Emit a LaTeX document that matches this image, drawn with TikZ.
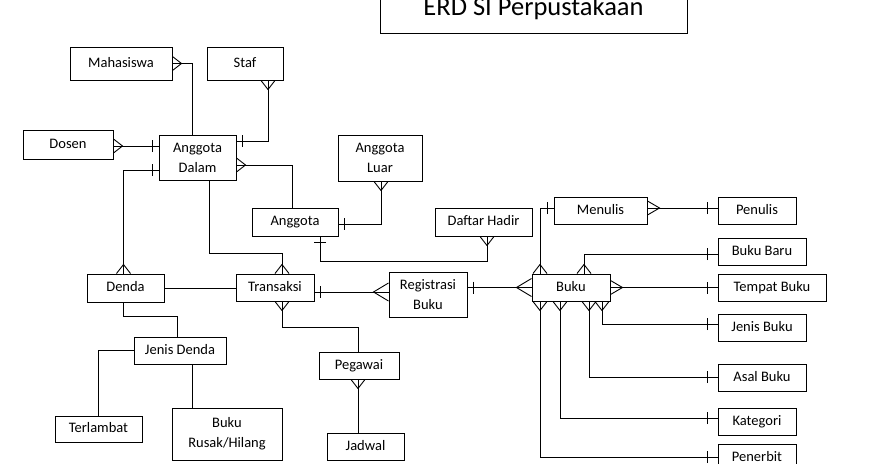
\documentclass[tikz,border=0pt]{standalone}
\usepackage{fontspec}
\setmainfont{Carlito}
\usetikzlibrary{calc}
\begin{document}
\begin{tikzpicture}[x=1pt,y=-1pt, line width=1pt,
 ent/.style={draw, inner sep=0pt, font=\fontsize{14.5}{20}\selectfont, text height=10pt, text depth=2.5pt},
 enttwo/.style={draw, inner sep=0pt, align=center, font=\fontsize{14.5}{20}\selectfont},
 crow/.pic={\draw[line width=0.9pt] (0,-7) -- (9,0) -- (0,7);},
 crowmed/.pic={\draw[line width=0.9pt] (0,-7) -- (12,0) -- (0,7);},
 crowbig/.pic={\draw[line width=0.9pt] (0,-9) -- (15,0) -- (0,9);},
 onenear/.pic={\draw (6,-6) -- (6,6);},
 onefar/.pic={\draw (10,-6) -- (10,6);}
]
\useasboundingbox (0,0) rectangle (883,463);

% title
\node[draw, inner sep=0pt, minimum width=307pt, text height=32pt, text depth=17pt,
      font=\fontsize{26.5}{30}\selectfont, anchor=base] (title) at (533.5,16) {ERD SI Perpustakaan};

% entities
\node[ent, minimum width=102pt, minimum height=33pt] (mah) at (121,63.5) {Mahasiswa};
\node[ent, minimum width=76pt, minimum height=33pt] (staf) at (245,63.5) {Staf};
\node[ent, minimum width=90pt, minimum height=29pt] (dosen) at (68,144.5) {Dosen};
\node[enttwo, minimum width=77pt, minimum height=45pt] (ad) at (197.5,157.5) {Anggota\\Dalam};
\node[ent, minimum width=86pt, minimum height=28pt] (ang) at (295,222) {Anggota};
\node[enttwo, minimum width=84pt, minimum height=46pt] (al) at (380,158) {Anggota\\Luar};
\node[ent, minimum width=97pt, minimum height=28pt] (dh) at (483.5,222) {Daftar Hadir};
\node[ent, minimum width=77pt, minimum height=28pt] (denda) at (125.5,288) {Denda};
\node[ent, minimum width=78pt, minimum height=27pt] (trx) at (275,287.5) {Transaksi};
\node[enttwo, minimum width=78pt, minimum height=45pt] (reg) at (428,295) {Registrasi\\Buku};
\node[ent, minimum width=78pt, minimum height=27pt] (buku) at (571,287.5) {Buku};
\node[ent, minimum width=93pt, minimum height=27pt] (menulis) at (600.5,210.5) {Menulis};
\node[ent, minimum width=78pt, minimum height=27pt] (penulis) at (757,210.5) {Penulis};
\node[ent, minimum width=88pt, minimum height=27pt] (bb) at (762,251.5) {Buku Baru};
\node[ent, minimum width=108pt, minimum height=27pt] (tb) at (772,287.5) {Tempat Buku};
\node[ent, minimum width=88pt, minimum height=27pt] (jb) at (762,327.5) {Jenis Buku};
\node[ent, minimum width=88pt, minimum height=27pt] (asal) at (762,377.5) {Asal Buku};
\node[ent, minimum width=78pt, minimum height=27pt] (kat) at (757,421.5) {Kategori};
\node[ent, minimum width=78pt, minimum height=27pt] (pen) at (757,457.5) {Penerbit};
\node[ent, minimum width=92pt, minimum height=27pt] (jd) at (180,350.5) {Jenis Denda};
\node[ent, minimum width=87pt, minimum height=26pt] (terl) at (98.5,429) {Terlambat};
\node[enttwo, minimum width=110pt, minimum height=52pt] (brh) at (227,434) {Buku\\Rusak/Hilang};
\node[ent, minimum width=80pt, minimum height=27pt] (peg) at (359,365.5) {Pegawai};
\node[ent, minimum width=77pt, minimum height=27pt] (jadwal) at (365.5,446.5) {Jadwal};

% connectors
\draw (mah.east) -| ($(ad.north)+(-5.5,0)$);
\draw ($(staf.south)+(23,0)$) |- ($(ad.east)+(0,-16.5)$);
\draw ($(dosen.east)+(0,1.5)$) -- ($(ad.west)+(0,-11.5)$);
\draw ($(ad.west)+(0,12.5)$) -| ($(denda.north)+(-2,0)$);
\draw ($(ad.east)+(0,7.5)$) -| ($(ang.north)+(-3,0)$);
\draw ($(ad.south)+(11.5,0)$) |- ($(trx.north)+(7,-20)$) -- ($(trx.north)+(7,0)$);
\draw ($(al.south)+(1,0)$) |- ($(ang.east)+(0,2)$);
\draw ($(ang.south)+(25,0)$) |- ($(dh.south)+(3.5,25)$) -- ($(dh.south)+(3.5,0)$);
\draw (denda.east) -- (denda.east -| trx.west);
\draw ($(trx.east)+(0,4.5)$) -- ($(reg.west)+(0,-3)$);
\draw ($(reg.east)+(0,-7.5)$) -- ($(buku.west)+(0,0)$);
\draw ($(menulis.west)+(0,-2.5)$) -| ($(buku.north)+(-31,0)$);
\draw ($(menulis.east)+(0,-2.5)$) -- ($(penulis.west)+(0,-2.5)$);
\draw ($(buku.north)+(13,0)$) |- ($(bb.west)+(0,2.5)$);
\draw (buku.east) -- (tb.west);
\draw ($(buku.south)+(31,0)$) |- ($(jb.west)+(0,-3.5)$);
\draw ($(buku.south)+(18,0)$) |- ($(asal.west)+(0,-0.5)$);
\draw ($(buku.south)+(-11,0)$) |- ($(kat.west)+(0,-3.5)$);
\draw ($(buku.south)+(-31,0)$) |- ($(pen.west)+(0,-0.5)$);
\draw ($(denda.south)+(-2.5,0)$) |- ($(jd.north)+(-3,-20)$) -- ($(jd.north)+(-3,0)$);
\draw (jd.west) -| (terl.north);
\draw ($(jd.south)+(12,0)$) -- ($(brh.north)+(-35,0)$);
\draw ($(trx.south)+(7,0)$) |- ($(peg.north)+(-1,-24)$) -- ($(peg.north)+(-1,0)$);
\draw ($(peg.south)+(-1,0)$) -- ($(jadwal.north)+(-7.5,0)$);

% many-ends (crow's feet)
\path (mah.east) pic {crow};
\path ($(staf.south)+(23,0)$) pic[rotate=-90] {crow};
\path ($(dosen.east)+(0,1.5)$) pic {crow};
\path ($(ad.east)+(0,7.5)$) pic {crow};
\path ($(denda.north)+(-2,0)$) pic[rotate=90] {crow};
\path ($(trx.north)+(7,0)$) pic[rotate=90] {crow};
\path ($(trx.south)+(7,0)$) pic[rotate=-90] {crow};
\path ($(al.south)+(1,0)$) pic[rotate=-90] {crow};
\path ($(dh.south)+(3.5,0)$) pic[rotate=-90] {crow};
\path ($(reg.west)+(0,-3)$) pic[rotate=180] {crowbig};
\path ($(menulis.east)+(0,-2.5)$) pic {crowmed};
\path (buku.west) pic[rotate=180] {crowbig};
\path (buku.east) pic {crowmed};
\path ($(buku.north)+(-31,0)$) pic[rotate=90] {crow};
\path ($(buku.north)+(13,0)$) pic[rotate=90] {crow};
\path ($(buku.south)+(-31,0)$) pic[rotate=-90] {crow};
\path ($(buku.south)+(-11,0)$) pic[rotate=-90] {crow};
\path ($(buku.south)+(18,0)$) pic[rotate=-90] {crow};
\path ($(buku.south)+(31,0)$) pic[rotate=-90] {crow};
\path ($(peg.south)+(-1,0)$) pic[rotate=-90] {crow};

% one-ends (bars)
\path ($(ad.east)+(0,-16.5)$) pic {onenear};
\path ($(ad.west)+(0,-11.5)$) pic[rotate=180] {onenear};
\path ($(ad.west)+(0,12.5)$) pic[rotate=180] {onenear};
\path ($(ang.east)+(0,2)$) pic {onenear};
\path ($(ang.south)+(25,0)$) pic[rotate=-90] {onenear};
\path ($(trx.east)+(0,4.5)$) pic {onenear};
\path ($(reg.east)+(0,-7.5)$) pic {onenear};
\path ($(menulis.west)+(0,-2.5)$) pic[rotate=180] {onenear};
\path ($(penulis.west)+(0,-2.5)$) pic[rotate=180] {onefar};
\path ($(bb.west)+(0,2.5)$) pic[rotate=180] {onefar};
\path (tb.west) pic[rotate=180] {onefar};
\path ($(jb.west)+(0,-3.5)$) pic[rotate=180] {onefar};
\path ($(asal.west)+(0,-0.5)$) pic[rotate=180] {onefar};
\path ($(kat.west)+(0,-3.5)$) pic[rotate=180] {onefar};
\path ($(pen.west)+(0,-0.5)$) pic[rotate=180] {onefar};
\end{tikzpicture}
\end{document}
